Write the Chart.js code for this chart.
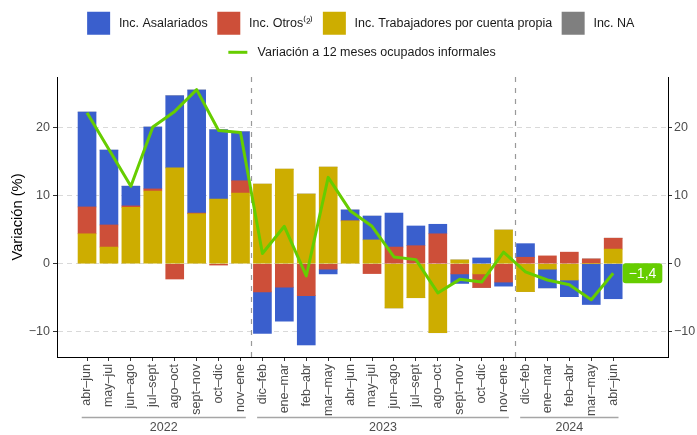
<!DOCTYPE html>
<html>
<head>
<meta charset="utf-8">
<script src="https://cdn.jsdelivr.net/npm/chart.js@4/dist/chart.umd.min.js"></script>
<style>
  html, body { margin: 0; padding: 0; background: #fff; }
</style>
</head>
<body>
<canvas id="chart" width="697" height="435"></canvas>
<script>
// categorias (trimestres moviles) y su año
var categories = ['abr–jun', 'may–jul', 'jun–ago', 'jul–sept', 'ago–oct', 'sept–nov', 'oct–dic', 'nov–ene',
  'dic–feb', 'ene–mar', 'feb–abr', 'mar–may', 'abr–jun', 'may–jul', 'jun–ago', 'jul–sept', 'ago–oct', 'sept–nov', 'oct–dic', 'nov–ene',
  'dic–feb', 'ene–mar', 'feb–abr', 'mar–may', 'abr–jun'];
var categoryYears = ['2022', '2022', '2022', '2022', '2022', '2022', '2022', '2022',
  '2023', '2023', '2023', '2023', '2023', '2023', '2023', '2023', '2023', '2023', '2023', '2023',
  '2024', '2024', '2024', '2024', '2024'];

// incidencias (puntos porcentuales)
var cuentaPropia = [4.4, 2.45, 8.3, 10.7, 14.1, 7.35, 9.5, 10.4,
  11.7, 13.9, 10.25, 14.2, 6.3, 3.5, -6.5, -5.0, -10.15, 0.55, -1.5, 4.95,
  -4.1, -0.8, -2.4, 0, 2.15];
var otros = [3.95, 3.25, 0.2, 0.3, -2.25, 0.1, -0.2, 1.8,
  -4.15, -3.45, -4.7, -0.8, 0, -1.45, 2.45, 2.65, 4.4, -1.5, -2.0, -2.7,
  0.95, 1.15, 1.7, 0.7, 1.6];
var asalariados = [13.95, 11.0, 2.9, 9.1, 10.6, 18.1, 10.2, 7.2,
  -6.1, -5.0, -7.25, -0.7, 1.6, 3.5, 5.0, 2.9, 1.4, -1.4, 0.85, -0.6,
  2.0, -2.75, -2.45, -6.0, -5.15];
var incNA = [0, 0, 0, 0, 0, 0, 0, 0,
  0, 0, 0, 0, 0, 0, 0, 0, 0, 0, 0, 0,
  0, 0, 0, 0, 0];
// variacion a 12 meses ocupados informales (%)
var variacion = [22.2, 16.8, 11.4, 20.1, 22.4, 25.6, 19.6, 19.3,
  1.5, 5.5, -1.8, 12.7, 7.8, 5.5, 1.0, 0.6, -4.3, -2.3, -2.7, 1.7,
  -1.2, -2.4, -3.1, -5.3, -1.4];

var yTicks = [-10, 0, 10, 20];

var FONT = '"Liberation Sans", Arial, Helvetica, sans-serif';
var LINE_LABEL = 'Variación a 12 meses ocupados informales';
var legendOrder = ['Inc. Asalariados', 'Inc. Otros⁽²⁾', 'Inc. Trabajadores por cuenta propia', 'Inc. NA', LINE_LABEL];
var LEGEND_SHIFT = 14; // la leyenda se centra sobre el panel, no sobre el lienzo

function fmt(v) {
  return String(v).replace('.', ',').replace('-', '\u2212');
}

// grupos por año
var groups = [];
categoryYears.forEach(function (y, i) {
  var g = groups[groups.length - 1];
  if (!g || g.year !== y) groups.push({ year: y, first: i, last: i });
  else g.last = i;
});

// aire bajo la leyenda y desplazamiento hacia el centro del panel
var legendSpace = {
  id: 'legendSpace',
  beforeInit: function (chart) {
    var lg = chart.legend;
    var fit = lg.fit, draw = lg.draw;
    lg.fit = function () {
      fit.call(this);
      this.height += 3.2;
    };
    lg.draw = function () {
      var ctx = this.ctx;
      ctx.save();
      ctx.translate(LEGEND_SHIFT, 0);
      draw.call(this);
      ctx.restore();
    };
  }
};

// lineas verticales entre años
var separators = {
  id: 'separators',
  beforeDatasetsDraw: function (chart) {
    var x = chart.scales.x, a = chart.chartArea, ctx = chart.ctx;
    ctx.save();
    ctx.strokeStyle = '#999999';
    ctx.lineWidth = 1.2;
    ctx.setLineDash([5, 6]);
    for (var k = 1; k < groups.length; k++) {
      var px = Math.round(x.getPixelForValue(groups[k].first - 0.5)) + 0.5;
      ctx.beginPath();
      ctx.moveTo(px, a.top);
      ctx.lineTo(px, a.bottom);
      ctx.stroke();
    }
    ctx.restore();
  }
};

// años bajo el eje x
var yearAxis = {
  id: 'yearAxis',
  afterDraw: function (chart) {
    var x = chart.scales.x, ctx = chart.ctx;
    ctx.save();
    groups.forEach(function (g) {
      var x1 = x.getPixelForValue(g.first) - 5.3;
      var x2 = x.getPixelForValue(g.last) + 5.3;
      var y = x.bottom - 17.5;
      ctx.strokeStyle = '#a6a6a6';
      ctx.lineWidth = 1.5;
      ctx.beginPath();
      ctx.moveTo(x1, y);
      ctx.lineTo(x2, y);
      ctx.stroke();
      ctx.fillStyle = '#4d4d4d';
      ctx.font = '12.5px ' + FONT;
      ctx.textAlign = 'center';
      ctx.textBaseline = 'middle';
      ctx.fillText(g.year, (x1 + x2) / 2, y + 10.5);
    });
    ctx.restore();
  }
};

// etiqueta del ultimo valor + linea en la leyenda
var endLabel = {
  id: 'endLabel',
  afterDraw: function (chart) {
    var ctx = chart.ctx;
    var idx = chart.data.datasets.findIndex(function (d) { return d.type === 'line'; });
    var meta = chart.getDatasetMeta(idx);
    var pt = meta.data[meta.data.length - 1];
    var text = fmt(variacion[variacion.length - 1]);
    ctx.save();
    ctx.font = '14px ' + FONT;
    var w = ctx.measureText(text).width + 12, h = 20;
    var bx = pt.x + 9.5, by = pt.y - h / 2;
    ctx.fillStyle = '#66CD00';
    ctx.beginPath();
    ctx.roundRect(bx, by, w, h, 3);
    ctx.fill();
    ctx.fillStyle = '#ffffff';
    ctx.textAlign = 'center';
    ctx.textBaseline = 'middle';
    ctx.fillText(text, bx + w / 2, pt.y + 0.5);

    // clave de linea en la leyenda
    var items = chart.legend.legendItems;
    for (var i = 0; i < items.length; i++) {
      if (items[i].datasetIndex === idx) {
        var hb = chart.legend.legendHitBoxes[i];
        var ly = hb.top + 11.5;
        var lx = hb.left + LEGEND_SHIFT;
        ctx.strokeStyle = '#66CD00';
        ctx.lineWidth = 3;
        ctx.beginPath();
        ctx.moveTo(lx + 2.5, ly);
        ctx.lineTo(lx + 21.5, ly);
        ctx.stroke();
      }
    }
    ctx.restore();
  }
};

var idxLabels = categories.map(function (c, i) { return i; });
var yMin = -13.72, yMax = 27.46;

new Chart(document.getElementById('chart'), {
  type: 'bar',
  data: {
    labels: idxLabels,
    datasets: [
      {
        type: 'line', label: LINE_LABEL, data: variacion,
        borderColor: '#66CD00', backgroundColor: '#66CD00', borderWidth: 3,
        borderJoinStyle: 'round', pointRadius: 0, tension: 0, stack: 'linea', order: 0
      },
      { label: 'Inc. Trabajadores por cuenta propia', data: cuentaPropia, backgroundColor: '#CDAD00', stack: 'barras', order: 1 },
      { label: 'Inc. Otros⁽²⁾', data: otros, backgroundColor: '#CD4F39', stack: 'barras', order: 1 },
      { label: 'Inc. Asalariados', data: asalariados, backgroundColor: '#3A5FCD', stack: 'barras', order: 1 },
      { label: 'Inc. NA', data: incNA, backgroundColor: '#7F7F7F', stack: 'barras', order: 1 }
    ]
  },
  options: {
    responsive: false,
    animation: false,
    devicePixelRatio: 1,
    barThickness: 18,
    layout: { padding: { top: 5.8, left: 0, right: 0, bottom: 0 } },
    plugins: {
      tooltip: { enabled: false },
      legend: {
        position: 'top',
        labels: {
          boxWidth: 23,
          boxHeight: 23,
          padding: 6,
          color: '#1a1a1a',
          font: { size: 12.5, family: FONT },
          generateLabels: function (chart) {
            var items = Chart.defaults.plugins.legend.labels.generateLabels(chart);
            items.forEach(function (it) {
              var ds = chart.data.datasets[it.datasetIndex];
              it.key = it.text;
              it.text = '\u2009' + it.text + ' ';
              it.lineWidth = 0;
              if (ds.type === 'line') {
                it.fillStyle = 'rgba(0,0,0,0)';
                it.strokeStyle = 'rgba(0,0,0,0)';
              }
            });
            items.sort(function (a, b) {
              return legendOrder.indexOf(a.key) - legendOrder.indexOf(b.key);
            });
            return items;
          }
        }
      }
    },
    scales: {
      x: {
        type: 'linear',
        min: -1.37,
        max: 26.5,
        stacked: true,
        offset: false,
        afterBuildTicks: function (s) {
          s.ticks = categories.map(function (c, i) { return { value: i }; });
        },
        afterFit: function (s) { s.height = 78; },
        grid: { offset: false, drawOnChartArea: false, drawTicks: true, tickLength: 4, tickColor: '#333333', tickWidth: 1 },
        border: { color: '#000000', width: 1 },
        ticks: {
          autoSkip: false,
          minRotation: 90,
          maxRotation: 90,
          padding: 3,
          color: '#4d4d4d',
          font: { size: 12.5, family: FONT },
          callback: function (v) { return categories[v]; }
        }
      },
      y: {
        type: 'linear',
        position: 'left',
        stacked: true,
        min: yMin,
        max: yMax,
        afterBuildTicks: function (s) {
          s.ticks = yTicks.map(function (v) { return { value: v }; });
        },
        afterFit: function (s) { s.width = 57; },
        grid: { color: '#d9d9d9', lineWidth: 1, tickLength: 4, tickColor: '#333333', tickWidth: 1 },
        border: { display: true, color: '#000000', width: 1, dash: [5, 4] },
        ticks: { padding: 3, color: '#4d4d4d', font: { size: 12.5, family: FONT }, callback: fmt },
        title: {
          display: true,
          text: 'Variación (%)',
          color: '#000000',
          font: { size: 14.7, family: FONT },
          padding: { top: 9, bottom: 0 }
        }
      },
      y2: {
        type: 'linear',
        position: 'right',
        min: yMin,
        max: yMax,
        afterBuildTicks: function (s) {
          s.ticks = yTicks.map(function (v) { return { value: v }; });
        },
        afterFit: function (s) { s.width = 29; },
        grid: { drawOnChartArea: false, tickLength: 4, tickColor: '#333333', tickWidth: 1 },
        border: { display: true, color: '#000000', width: 1 },
        ticks: { padding: 2, color: '#4d4d4d', font: { size: 12.5, family: FONT }, callback: fmt }
      }
    }
  },
  plugins: [legendSpace, separators, yearAxis, endLabel]
});
</script>
</body>
</html>
